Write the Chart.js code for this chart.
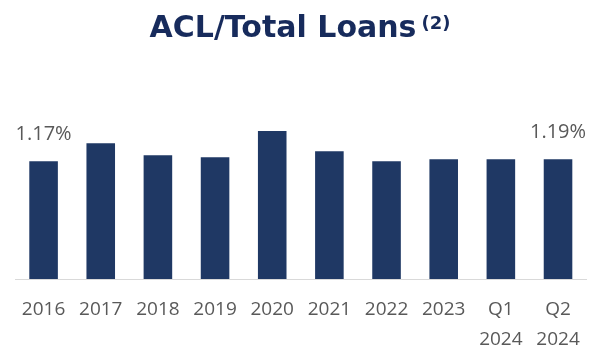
<!DOCTYPE html>
<html>
<head>
<meta charset="utf-8">
<script src="https://cdn.jsdelivr.net/npm/chart.js@4/dist/chart.umd.min.js"></script>
<style>
  html, body { margin: 0; padding: 0; background: #fff; }
  .wrap { width: 595px; height: 349px; }
</style>
</head>
<body>
<div class="wrap"><canvas class="js-chart" width="595" height="349"></canvas></div>
<script>
const periods = ['2016', '2017', '2018', '2019', '2020', '2021', '2022', '2023', ['Q1', '2024'], ['Q2', '2024']];
const aclRatio = [1.17, 1.35, 1.23, 1.21, 1.47, 1.27, 1.17, 1.19, 1.19, 1.19];
const labelledBars = [0, 9];

const titleText = 'ACL/Total Loans';
const titleNote = '(2)';

const navy = '#1f3864';
const grey = '#595959';

// heading with the footnote marker raised beside it
const headingPlugin = {
  id: 'heading',
  afterDraw(chart) {
    const c = chart.ctx;
    c.save();
    c.fillStyle = '#172b5c';
    c.textBaseline = 'alphabetic';
    c.font = 'bold 30px "DejaVu Sans"';
    const mainW = c.measureText(titleText).width;
    c.font = 'bold 18px "DejaVu Sans"';
    const noteW = c.measureText(titleNote).width;
    const gap = 5;
    const x0 = 300 - (mainW + gap + noteW) / 2;
    c.textAlign = 'left';
    c.font = 'bold 30px "DejaVu Sans"';
    c.fillText(titleText, x0, 37);
    c.font = 'bold 18px "DejaVu Sans"';
    c.fillText(titleNote, x0 + mainW + gap, 29);
    c.restore();
  }
};

// value labels over the first and last bars
const barLabels = {
  id: 'barLabels',
  afterDatasetsDraw(chart) {
    const c = chart.ctx;
    const meta = chart.getDatasetMeta(0);
    c.save();
    c.fillStyle = grey;
    c.font = '20px "Open Sans"';
    c.textAlign = 'center';
    c.textBaseline = 'middle';
    labelledBars.forEach(i => {
      const bar = meta.data[i];
      c.fillText(aclRatio[i].toFixed(2) + '%', bar.x, bar.y - 27);
    });
    c.restore();
  }
};

const ctx = document.querySelector('.js-chart').getContext('2d');

new Chart(ctx, {
  type: 'bar',
  data: {
    labels: periods,
    datasets: [{
      data: aclRatio,
      backgroundColor: navy,
      borderWidth: 0,
      categoryPercentage: 1,
      barPercentage: 0.5
    }]
  },
  options: {
    responsive: false,
    animation: false,
    devicePixelRatio: 1,
    layout: { padding: { top: 118, left: 15, right: 5, bottom: 0 } },
    plugins: {
      legend: { display: false },
      title: { display: false },
      tooltip: { enabled: false }
    },
    scales: {
      x: {
        grid: { display: false, drawTicks: false },
        border: { display: true, color: '#d9d9d9', width: 1 },
        ticks: {
          color: grey,
          font: { family: '"Open Sans"', size: 19, lineHeight: 1.6 },
          padding: 15,
          maxRotation: 0,
          autoSkip: false
        },
        afterFit(scale) { scale.height = 70; }
      },
      y: {
        display: false,
        min: 0,
        max: 1.6
      }
    }
  },
  plugins: [headingPlugin, barLabels]
});
</script>
</body>
</html>
